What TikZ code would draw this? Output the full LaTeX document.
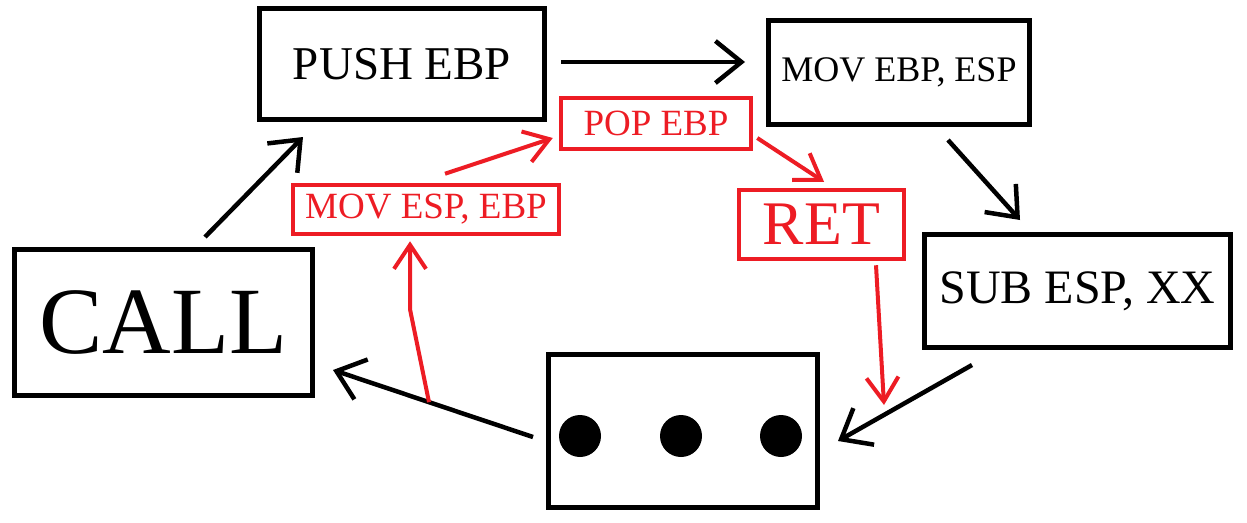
\documentclass[tikz,border=0pt]{standalone}
\usepackage{fontspec}
\setmainfont{Liberation Serif}
\usetikzlibrary{arrows.meta}
\definecolor{paintred}{RGB}{237,28,36}
\tikzset{
    box/.style={rectangle,draw,line width=5pt,inner sep=0pt},
    redbox/.style={rectangle,draw=paintred,text=paintred,line width=4.5pt,inner sep=0pt},
    flow/.style={line width=4.5pt,-{Straight Barb[length=26pt,width=42pt]}},
    redflow/.style={draw=paintred,line width=4pt,-{Straight Barb[length=24pt,width=32pt]}},
}

\begin{document}
\begin{tikzpicture}[x=1pt,y=-1pt]
            \useasboundingbox (0,0) rectangle (1247,522);
            \node[box,minimum width=285pt,minimum height=111pt,font=\fontsize{47}{47}\selectfont] (push) at (402,64) {PUSH EBP};
            \node[box,minimum width=261pt,minimum height=104pt,font=\fontsize{36}{36}\selectfont] (movebp) at (899,72.5) {MOV EBP, ESP};
            \node[box,minimum width=298pt,minimum height=146pt,font=\fontsize{95}{95}\selectfont] (call) at (163.5,322.5) {CALL};
            \node[box,minimum width=306pt,minimum height=113pt,font=\fontsize{48}{48}\selectfont] (sub) at (1077.5,291) {SUB ESP, XX};
            \node[box,minimum width=269pt,minimum height=153pt] (dots) at (683,431) {};
            \node[redbox,minimum width=190pt,minimum height=51pt,font=\fontsize{37}{37}\selectfont] (popebp) at (656,123.5) {POP EBP};
            \node[redbox,minimum width=266pt,minimum height=49pt,font=\fontsize{37}{37}\selectfont] (movesp) at (426,209.5) {MOV ESP, EBP};
            \node[redbox,minimum width=165pt,minimum height=69pt,font=\fontsize{62}{62}\selectfont] (ret) at (821.5,224.5) {RET};
            \fill ([shift={(-103,5)}]dots.center) circle (21pt);
            \fill ([shift={(-2,5)}]dots.center) circle (21pt);
            \fill ([shift={(98,5)}]dots.center) circle (21pt);
            \draw[flow] ([shift={(14,-2)}]push.east) -- ([shift={(-21,-10.5)}]movebp.west);
            \draw[flow] ([shift={(49,13)}]movebp.south) -- ([shift={(-57.5,-12)}]sub.north);
            \draw[flow] ([shift={(-105.5,15)}]sub.south) -- ([shift={(18,10)}]dots.east);
            \draw[flow] ([shift={(-13,6)}]dots.west) -- coordinate[pos=0.52] (split) ([shift={(18,47.5)}]call.east);
            \draw[flow] ([shift={(41.5,-10)}]call.north) -- ([shift={(-99,15)}]push.south);
            \draw[redflow] (split) -- ([shift={(-16,73)}]movesp.south) -- ([shift={(-16,5)}]movesp.south);
            \draw[redflow] ([shift={(19,-9)}]movesp.north) -- ([shift={(-6,14.5)}]popebp.west);
            \draw[redflow] ([shift={(4,14.5)}]popebp.east) -- ([shift={(2.5,-6)}]ret.north);
            \draw[redflow] ([shift={(54.5,4)}]ret.south) -- ([shift={(64,53)}]dots.north east);
        \end{tikzpicture}
\end{document}
